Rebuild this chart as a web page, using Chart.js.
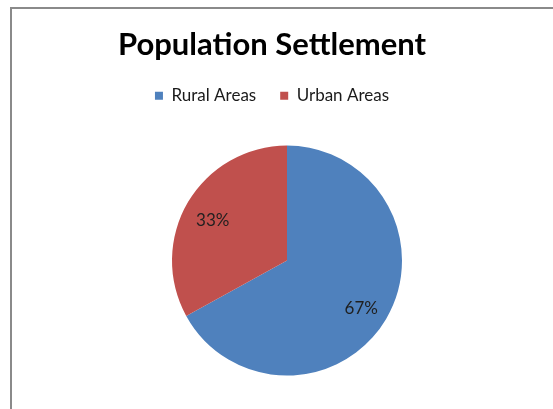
<!DOCTYPE html>
<html>
<head>
<meta charset="utf-8">
<script src="https://cdn.jsdelivr.net/npm/chart.js@4"></script>
<style>
  html, body { margin: 0; padding: 0; background: #fff; overflow: hidden; }
  #wrap { position: relative; width: 553px; height: 409px; }
  #frame { position: absolute; left: 10px; top: 7px; width: 600px; height: 500px;
           border: 2px solid #8a8a8a; box-sizing: border-box; }
  canvas { position: absolute; left: 0; top: 0; }
</style>
</head>
<body>
<div id="wrap">
  <div id="frame"></div>
  <canvas id="chart" width="553" height="409"></canvas>
</div>
<script>
const categories = ['Rural Areas', 'Urban Areas'];
const shares = [67, 33];
const sliceColors = ['#4F81BD', '#C0504D'];

// draws the percent labels inside each slice
const percentLabels = {
    id: 'percentLabels',
    afterDatasetsDraw(chart) {
        const ctx = chart.ctx;
        const meta = chart.getDatasetMeta(0);
        const total = shares.reduce((a, b) => a + b, 0);
        ctx.save();
        ctx.font = '17px Lato, "Open Sans", sans-serif';
        ctx.fillStyle = '#1f1f1f';
        ctx.textAlign = 'center';
        ctx.textBaseline = 'middle';
        meta.data.forEach((arc, i) => {
            const mid = (arc.startAngle + arc.endAngle) / 2;
            const r = arc.outerRadius * 0.75;
            const x = arc.x + Math.cos(mid) * r;
            const y = arc.y + Math.sin(mid) * r + 4;
            ctx.fillText(Math.round(shares[i] / total * 100) + '%', x, y);
        });
        ctx.restore();
    }
};

new Chart(document.getElementById('chart'), {
    type: 'pie',
    data: {
        labels: categories,
        datasets: [{
            data: shares,
            backgroundColor: sliceColors,
            borderWidth: 0,
            radius: 115
        }]
    },
    options: {
        responsive: false,
        animation: false,
        layout: { padding: { left: 0, right: 9, top: 0, bottom: 2 } },
        plugins: {
            title: {
                display: true,
                text: 'Population Settlement',
                color: '#000',
                font: { family: 'Lato', size: 31, weight: 'bold', lineHeight: 1.2 },
                padding: { top: 26, bottom: 0 }
            },
            // empty spacer on the left so the pie sits a bit right of the title
            subtitle: {
                display: true,
                position: 'left',
                text: ' ',
                font: { size: 10, lineHeight: 1 },
                padding: { top: 10, bottom: 10 }
            },
            legend: {
                position: 'top',
                labels: {
                    color: '#1a1a1a',
                    font: { family: 'Lato', size: 17 },
                    boxWidth: 8,
                    boxHeight: 8,
                    padding: 24
                }
            },
            tooltip: { enabled: false }
        }
    },
    plugins: [percentLabels]
});
</script>
</body>
</html>
